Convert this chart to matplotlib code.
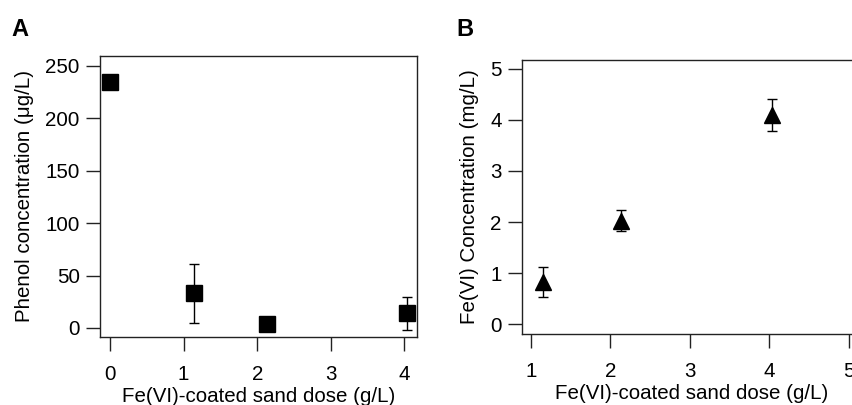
import matplotlib.pyplot as plt

plt.rcParams['font.family'] = ['Liberation Sans', 'DejaVu Sans']

# Panel A: phenol concentration vs dose
dose_a = [0.0, 1.14, 2.13, 4.03]
phenol = [235, 33, 3.5, 14]
phenol_err = [0, 28, 0, 16]

# Panel B: Fe(VI) concentration vs dose
dose_b = [1.15, 2.135, 4.03]
fevi = [0.83, 2.03, 4.10]
fevi_err = [0.30, 0.20, 0.31]

W, H = 852, 405
FS = 14.8
fig = plt.figure(figsize=(W / 100, H / 100), dpi=100)


def px_axes(left, top, right, bottom):
    return fig.add_axes([left / W, 1 - bottom / H, (right - left) / W, (bottom - top) / H])


def style(ax):
    for s in ax.spines.values():
        s.set_linewidth(1.0)
        s.set_color('#222222')
    ax.tick_params(direction='out', length=10, width=1.0, labelsize=FS, color='#222222')
    ax.tick_params(axis='x', pad=10)
    ax.tick_params(axis='y', pad=4.5)


# ---- A ----
axA = px_axes(100, 56, 417, 337)
axA.errorbar(dose_a, phenol, yerr=phenol_err, fmt='s', color='black', ms=11,
             capsize=3.5, elinewidth=1.0, capthick=1.0)
axA.set_xlim(-0.136, 4.17)
axA.set_ylim(-8.6, 259.5)
axA.set_xticks([0, 1, 2, 3, 4])
axA.set_yticks([0, 50, 100, 150, 200, 250])
axA.set_xlabel('Fe(VI)-coated sand dose (g/L)', fontsize=FS, labelpad=2)
axA.set_ylabel('Phenol concentration (μg/L)', fontsize=FS, labelpad=8)
style(axA)
fig.text(11 / W, 1 - 29 / H, 'A', fontsize=17, fontweight='bold', va='center', ha='left')

# ---- B ----
axB = px_axes(522, 60, 862, 334)
axB.errorbar(dose_b, fevi, yerr=fevi_err, fmt='^', color='black', ms=12,
             capsize=3.5, elinewidth=1.0, capthick=1.0)
axB.set_xlim(0.885, 5.17)
axB.set_ylim(-0.19, 5.17)
axB.set_xticks([1, 2, 3, 4, 5])
axB.set_yticks([0, 1, 2, 3, 4, 5])
axB.set_xlabel('Fe(VI)-coated sand dose (g/L)', fontsize=FS, labelpad=2)
axB.set_ylabel('Fe(VI) Concentration (mg/L)', fontsize=FS, labelpad=8)
style(axB)
fig.text(456 / W, 1 - 29 / H, 'B', fontsize=17, fontweight='bold', va='center', ha='left')

fig.savefig('out.png', dpi=100)
